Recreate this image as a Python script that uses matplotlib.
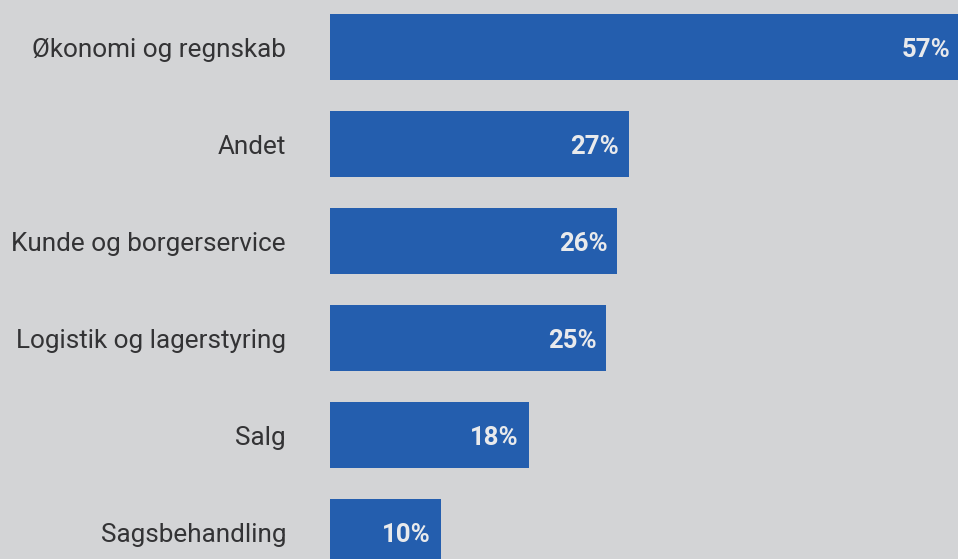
import matplotlib
matplotlib.use("Agg")
import matplotlib.pyplot as plt

categories = ["Økonomi og regnskab", "Andet", "Kunde og borgerservice",
              "Logistik og lagerstyring", "Salg", "Sagsbehandling"]
values = [57, 27, 26, 25, 18, 10]
value_labels = ["57%", "27%", "26%", "25%", "18%", "10%"]

BG = "#d3d4d6"
BAR = "#245eae"
TXT = "#333335"
VAL = "#e9eaec"

W, H = 958, 559
fig = plt.figure(figsize=(W / 100, H / 100), dpi=100, facecolor=BG)
ax = fig.add_axes([330 / W, 0, 628 / W, 1])
ax.set_facecolor(BG)

ypos = list(range(len(categories)))
ax.barh(ypos, values, height=0.68, color=BAR, clip_on=False)
ax.set_xlim(0, 56.8)
ax.set_ylim(5 + 27 / 97, -47 / 97)

for y, v, lab in zip(ypos, values, value_labels):
    ax.annotate(lab, (v, y), xytext=(-7.2, -2), textcoords="offset points",
                ha="right", va="center", color=VAL, fontsize=18.5,
                fontweight="bold", family="Roboto", annotation_clip=False)

for y, c in zip(ypos, categories):
    ax.annotate(c, (0, y), xytext=(-44 * 0.72, -2), textcoords="offset points",
                ha="right", va="center", color=TXT, fontsize=18.8,
                family="Roboto", annotation_clip=False)

ax.set_xticks([])
ax.set_yticks([])
for s in ax.spines.values():
    s.set_visible(False)

fig.savefig("out.png", dpi=100, facecolor=BG)
